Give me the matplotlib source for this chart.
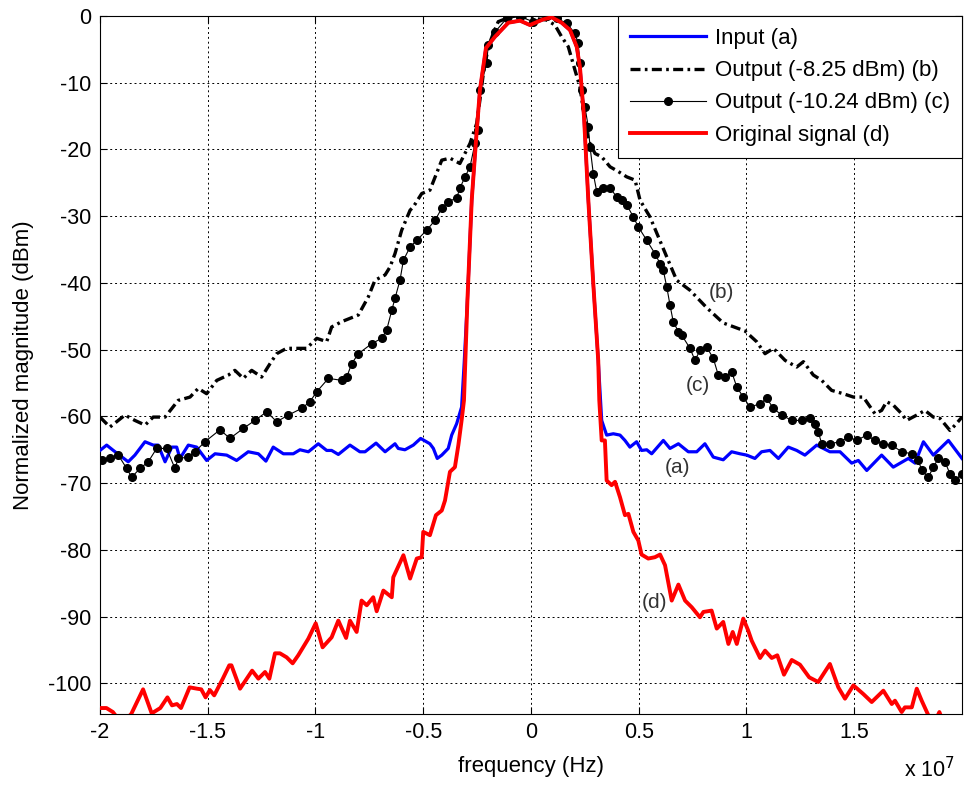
import matplotlib
matplotlib.use("Agg")
import matplotlib.pyplot as plt

plt.rcParams["font.family"] = ["Liberation Sans", "DejaVu Sans"]
plt.rcParams["axes.unicode_minus"] = False

# frequency in units of 1e7 Hz, magnitude in dBm
a_x = [-2.0, -1.969, -1.938, -1.869, -1.838, -1.791, -1.753, -1.73, -1.698, -1.667, -1.644, -1.629,
       -1.59, -1.551, -1.505, -1.466, -1.412, -1.366, -1.312, -1.265, -1.23, -1.196, -1.149, -1.103,
       -1.072, -1.033, -0.987, -0.948, -0.925, -0.894, -0.84, -0.794, -0.77, -0.719, -0.677, -0.631,
       -0.616, -0.585, -0.546, -0.512, -0.469, -0.453, -0.435, -0.414, -0.384, -0.368, -0.345, -0.322,
       -0.31, -0.295, -0.275, -0.255, -0.237, -0.209, -0.167, -0.105, -0.051, -0.005, 0.057, 0.096,
       0.142, 0.181, 0.212, 0.227, 0.246, 0.266, 0.289, 0.312,
       0.328, 0.351, 0.382, 0.413, 0.436, 0.459, 0.49, 0.513, 0.537, 0.56, 0.614, 0.645, 0.684, 0.73,
       0.769, 0.807, 0.846, 0.892, 0.931, 0.97, 1.001, 1.039, 1.07, 1.109, 1.148, 1.194, 1.233, 1.271,
       1.326, 1.387, 1.434, 1.488, 1.519, 1.558, 1.627, 1.681, 1.751, 1.782, 1.821, 1.867, 1.937, 2.0]
a_y = [-65.1, -64.3, -65.1, -66.8, -65.8, -63.8, -64.3, -64.3, -66.8, -64.6, -64.6, -66.3,
       -64.3, -64.6, -66.6, -65.6, -65.8, -66.6, -65.3, -65.6, -66.7, -64.6, -65.6, -65.6,
       -65.0, -65.3, -64.1, -65.1, -65.1, -65.7, -64.3, -65.3, -65.3, -64.0, -65.3, -64.1,
       -64.8, -65.0, -64.3, -63.3, -64.1, -64.8, -66.3, -65.8, -64.8, -62.8, -61.1, -58.6,
       -52.0, -42.6, -27.6, -18.6, -11.1, -4.8, -3.1, -1.0, -0.7, -1.35, -0.5, -0.2,
       -1.0, -2.1, -4.6, -7.6, -15.1, -27.6, -40.1, -51.6,
       -60.6, -62.8, -62.6, -62.8, -63.6, -64.6, -63.8, -65.1, -65.0, -65.6, -63.6, -64.8, -64.1, -65.3,
       -65.3, -64.1, -66.1, -66.5, -65.3, -65.6, -65.8, -66.3, -65.3, -65.1, -66.3, -64.6, -65.1, -65.8,
       -64.3, -65.3, -65.3, -67.0, -66.6, -68.1, -65.8, -67.6, -66.3, -67.0, -63.8, -65.8, -63.6, -66.3]

b_x = [-2.0, -1.954, -1.884, -1.838, -1.791, -1.753, -1.698, -1.637, -1.582, -1.544, -1.505, -1.458,
       -1.404, -1.374, -1.335, -1.296, -1.25, -1.211, -1.18, -1.134, -1.08, -1.041, -0.994, -0.948,
       -0.925, -0.878, -0.801, -0.755, -0.724, -0.677, -0.654, -0.631, -0.6, -0.561, -0.546, -0.507,
       -0.469, -0.414, -0.376, -0.33, -0.283, -0.252, -0.237, -0.221, -0.198, -0.175, -0.152, -0.113,
       -0.05, 0.011, 0.073, 0.111, 0.142, 0.173, 0.204, 0.227, 0.25, 0.266, 0.297, 0.328, 0.367,
       0.405, 0.444, 0.483, 0.506, 0.552, 0.591, 0.63, 0.676, 0.738, 0.815, 0.892, 0.993, 1.047,
       1.086, 1.125, 1.179, 1.233, 1.264, 1.31, 1.349, 1.395, 1.449, 1.496, 1.542, 1.596, 1.627,
       1.65, 1.681, 1.72, 1.743, 1.79, 1.828, 1.867, 1.898, 1.944, 1.968, 2.0]
b_y = [-60.1, -61.6, -59.8, -60.6, -61.3, -60.1, -60.1, -57.6, -57.1, -55.8, -56.6, -54.6,
       -53.8, -53.1, -54.3, -53.1, -54.1, -52.1, -50.6, -49.8, -49.8, -49.8, -48.3, -48.8,
       -46.6, -45.8, -44.8, -42.1, -39.6, -38.8, -37.6, -35.6, -32.1, -29.1, -28.6, -26.6,
       -26.1, -21.6, -21.3, -22.1, -19.1, -16.1, -12.6, -8.6, -4.6, -2.6, -0.85, -0.35,
       -0.1, -0.35, -0.6, -1.35, -3.1, -4.6, -8.1, -10.6, -15.6, -18.6, -20.6, -21.1, -22.6,
       -23.3, -24.1, -24.6, -27.6, -30.1, -33.1, -36.1, -39.6, -41.1, -43.7, -46.0, -47.2, -48.8,
       -50.6, -49.8, -51.6, -52.6, -51.8, -53.8, -54.6, -56.1, -56.6, -57.1, -57.1, -59.6, -59.1,
       -57.8, -58.3, -59.6, -60.6, -59.8, -59.1, -60.1, -60.3, -62.1, -61.3, -60.1]

c_x = [-1.992, -1.954, -1.915, -1.876, -1.853, -1.814, -1.776, -1.737, -1.691, -1.652, -1.637, -1.59,
       -1.559, -1.513, -1.443, -1.397, -1.335, -1.281, -1.226, -1.18, -1.126, -1.064, -1.026, -0.994,
       -0.94, -0.878, -0.855, -0.832, -0.801, -0.739, -0.693, -0.67, -0.646, -0.631, -0.608, -0.592,
       -0.561, -0.53, -0.484, -0.445, -0.414, -0.384, -0.345, -0.33, -0.306, -0.283, -0.26, -0.245,
       -0.237, -0.206, -0.198, -0.167, -0.113, -0.051, 0.011, 0.073, 0.119, 0.166, 0.204, 0.219,
       0.227, 0.235, 0.25, 0.266, 0.274, 0.289, 0.305, 0.336, 0.367, 0.398, 0.421, 0.444, 0.475,
       0.498, 0.537, 0.575, 0.599, 0.614, 0.63, 0.645, 0.66, 0.684, 0.699, 0.738, 0.761, 0.784,
       0.815, 0.846, 0.869, 0.9, 0.931, 0.955, 0.985, 1.016, 1.063, 1.094, 1.125, 1.163, 1.21,
       1.256, 1.295, 1.318, 1.333, 1.349, 1.387, 1.434, 1.472, 1.511, 1.558, 1.596, 1.635, 1.674,
       1.72, 1.767, 1.798, 1.813, 1.844, 1.867, 1.89, 1.921, 1.944, 1.968, 1.999]
c_y = [-66.6, -66.3, -65.8, -67.8, -69.1, -67.8, -66.8, -64.8, -64.8, -67.8, -66.3, -66.1,
       -65.3, -63.8, -62.0, -63.3, -61.8, -60.6, -59.3, -60.8, -59.8, -58.8, -57.8, -56.3,
       -54.3, -54.6, -54.1, -52.1, -50.6, -49.1, -48.3, -47.1, -44.1, -42.3, -39.6, -36.6,
       -34.6, -33.6, -32.1, -30.6, -28.8, -27.8, -27.3, -25.8, -24.1, -22.6, -19.1, -17.1,
       -11.1, -7.1, -4.3, -2.4, -0.35, -0.1, -0.85, 0.0, -0.35, -1.1, -2.6, -4.1,
       -7.1, -11.1, -13.6, -16.6, -19.6, -23.6, -26.3, -25.8, -25.8, -27.1, -27.6, -28.3, -30.1,
       -31.6, -33.6, -35.6, -37.1, -38.1, -40.6, -43.3, -45.8, -47.3, -47.8, -49.8, -51.6, -50.1,
       -49.6, -51.3, -53.8, -54.1, -53.3, -55.6, -57.1, -58.6, -58.1, -57.3, -58.8, -59.8, -60.6,
       -60.6, -60.3, -61.1, -62.3, -64.1, -64.1, -63.8, -63.1, -63.6, -62.8, -63.6, -64.1, -64.3,
       -65.3, -65.6, -66.6, -68.1, -69.1, -67.6, -66.3, -66.8, -68.6, -69.6, -68.6]

d_x = [-2.0, -1.97, -1.94, -1.9, -1.855, -1.8, -1.76, -1.72, -1.687, -1.666, -1.643, -1.624, -1.584,
       -1.55, -1.53, -1.51, -1.49, -1.47, -1.43, -1.4, -1.39, -1.35, -1.325, -1.294, -1.265, -1.234,
       -1.214, -1.188, -1.165, -1.134, -1.106, -1.08, -1.033, -0.999, -0.967, -0.925, -0.894, -0.858,
       -0.84, -0.809, -0.786, -0.762, -0.732, -0.716, -0.685, -0.646, -0.639, -0.592, -0.561, -0.53,
       -0.507, -0.5, -0.469, -0.441, -0.414, -0.399, -0.376, -0.353, -0.337, -0.322, -0.311, -0.295,
       -0.275, -0.255, -0.237, -0.209, -0.167, -0.105, -0.051, -0.005, 0.057, 0.096, 0.142, 0.181,
       0.212, 0.227, 0.246, 0.266, 0.289, 0.312, 0.317, 0.328, 0.343, 0.351, 0.374, 0.39, 0.413,
       0.436, 0.452, 0.475, 0.498, 0.513, 0.544, 0.575, 0.599, 0.622, 0.653, 0.684, 0.715, 0.746,
       0.784, 0.8, 0.838, 0.862, 0.892, 0.916, 0.936, 0.955, 0.985, 1.008, 1.024, 1.063, 1.086,
       1.117, 1.143, 1.174, 1.21, 1.248, 1.291, 1.333, 1.387, 1.426, 1.457, 1.496, 1.542, 1.581,
       1.635, 1.674, 1.689, 1.72, 1.735, 1.767, 1.79, 1.813, 1.844, 1.87, 1.895, 1.915, 2.0]
d_y = [-103.7, -103.7, -104.3, -106.0, -104.6, -100.9, -104.5, -103.7, -102.1, -103.3, -103.1, -103.7,
       -100.6, -100.8, -100.9, -102.1, -101.0, -101.8, -99.3, -97.3, -97.3, -100.8, -99.6, -98.1,
       -99.3, -98.3, -99.3, -95.5, -95.5, -96.1, -97.0, -95.8, -93.3, -91.0, -94.6, -93.1, -90.6,
       -93.2, -90.6, -92.3, -87.6, -88.3, -87.1, -89.2, -86.1, -87.1, -84.1, -80.8, -84.3, -81.3,
       -81.1, -77.3, -77.8, -74.8, -74.1, -72.6, -68.3, -67.6, -64.3, -60.6, -57.6, -42.6,
       -27.6, -18.6, -11.1, -4.8, -3.1, -1.0, -0.7, -1.35, -0.5, -0.2, -1.0, -2.1,
       -4.6, -7.6, -15.1, -27.6, -40.1, -51.6, -57.6, -63.6, -63.6, -69.6, -70.3, -69.8, -72.1,
       -74.8, -74.6, -77.3, -78.6, -80.7, -81.3, -81.1, -80.7, -82.3, -87.6, -85.2, -87.6, -88.6,
       -90.1, -89.3, -89.1, -91.8, -90.8, -94.1, -92.3, -94.1, -90.3, -92.1, -93.6, -96.2, -95.1,
       -96.2, -95.8, -98.7, -96.5, -97.2, -99.1, -99.8, -97.1, -100.6, -102.3, -100.3, -101.6, -102.8,
       -101.1, -103.1, -102.6, -104.3, -103.6, -103.6, -100.8, -102.6, -104.8, -106.0, -104.3, -106.0, -106.0]

labels = ["Input (a)", "Output (-8.25 dBm) (b)", "Output (-10.24 dBm) (c)", "Original signal (d)"]
tags = ["(a)", "(b)", "(c)", "(d)"]
tag_pos = [(0.682, -67.6), (0.886, -41.4), (0.775, -55.3), (0.575, -87.9)]

fig = plt.figure(figsize=(9.65, 7.85), dpi=100)
ax = fig.add_axes([0.1036, 0.0904, 0.8933, 0.8892])

ax.plot(a_x, a_y, color="#0000ff", lw=2.3, label=labels[0], zorder=3)
ax.plot(b_x, b_y, color="k", lw=2.4, ls=(0, (3.0, 1.3, 0.8, 1.3)), label=labels[1], zorder=4)
ax.plot(c_x, c_y, color="k", lw=0.8, marker="o", ms=5.5, label=labels[2], zorder=5)
ax.plot(d_x, d_y, color="#ff0000", lw=2.8, label=labels[3], zorder=6)

for t, (tx, ty) in zip(tags, tag_pos):
    ax.text(tx, ty, t, fontsize=15, color="#333333", ha="center", va="center", zorder=7)

ax.set_xlim(-2, 2)
ax.set_ylim(-104.6, 0)
ax.set_xticks([-2, -1.5, -1, -0.5, 0, 0.5, 1, 1.5])
ax.set_xticklabels(["-2", "-1.5", "-1", "-0.5", "0", "0.5", "1", "1.5"])
ax.set_yticks(range(-100, 1, 10))
ax.tick_params(direction="in", length=5, labelsize=15.5, top=True, right=True, pad=6)
ax.grid(True, color="k", ls=(0, (2, 3)), lw=0.7)
for s in ax.spines.values():
    s.set_linewidth(0.8)

ax.set_xlabel("frequency (Hz)", fontsize=16, labelpad=9)
ax.set_ylabel("Normalized magnitude (dBm)", fontsize=16, labelpad=10)
fig.text(0.963, 0.004, r"x 10$^7$", fontsize=15.5, ha="center", va="bottom")

leg = ax.legend(loc="upper right", borderaxespad=0, fancybox=False, framealpha=1,
                edgecolor="k", fontsize=16, handlelength=3.4, labelspacing=0.5,
                borderpad=0.55, handletextpad=0.4)
leg.get_frame().set_linewidth(0.8)

fig.savefig("out.png", dpi=100)
